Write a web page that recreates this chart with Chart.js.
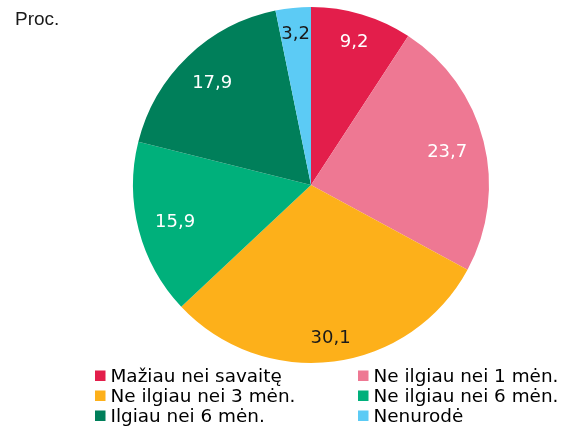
<!DOCTYPE html>
<html lang="lt">
  <head>
    <meta charset="utf-8">
    <title>Proc.</title>
    <script src="https://cdn.jsdelivr.net/npm/chart.js@4/dist/chart.umd.min.js"></script>
    <style>
      html, body { margin: 0; padding: 0; background: #fff; }
      #wrap { width: 568px; height: 432px; position: relative; }
    </style>
  </head>
  <body>
    <div id="wrap"><canvas id="chartCanvas" width="568" height="432"></canvas></div>
    <script>
      // data
      var categories = ['Mažiau nei savaitę', 'Ne ilgiau nei 1 mėn.', 'Ne ilgiau nei 3 mėn.',
                        'Ne ilgiau nei 6 mėn.', 'Ilgiau nei 6 mėn.', 'Nenurodė'];
      var shares = [9.2, 23.7, 30.1, 15.9, 17.9, 3.2];
      var unitLabel = 'Proc.';

      var colors = ['#e31e4b', '#ee7893', '#fdb01a', '#00b07b', '#007f5a', '#5ccbf5'];
      var labelColors = ['#fff', '#fff', '#1a1a1a', '#fff', '#fff', '#1a1a1a'];

      // value labels inside the slices, box kept a fixed distance from the rim
      var sliceLabels = {
        id: 'sliceLabels',
        afterDatasetsDraw: function (chart) {
          var c = chart.ctx;
          var meta = chart.getDatasetMeta(0);
          var capH = 13;
          c.save();
          c.font = '18px "DejaVu Sans"';
          c.textAlign = 'center';
          c.textBaseline = 'alphabetic';
          meta.data.forEach(function (arc, i) {
            var txt = String(shares[i]).replace('.', ',');
            var w = c.measureText(txt).width;
            var mid = (arc.startAngle + arc.endAngle) / 2;
            var cx = Math.cos(mid), cy = Math.sin(mid);
            var ext = Math.abs(cx) * w / 2 + Math.abs(cy) * capH / 2;
            var r = arc.outerRadius - 16.5 - ext;
            c.fillStyle = labelColors[i];
            c.fillText(txt, arc.x + cx * r, arc.y + cy * r + capH / 2);
          });
          c.restore();
        }
      };

      // two column legend and unit text
      var gridLegend = {
        id: 'gridLegend',
        afterDraw: function (chart) {
          var c = chart.ctx;
          c.save();
          c.textBaseline = 'alphabetic';
          c.font = '19px "Liberation Sans"';
          c.fillStyle = '#1a1a1a';
          c.fillText(unitLabel, 15, 25);

          c.font = '18.4px "DejaVu Sans"';
          var colX = [95, 358];
          chart.data.labels.forEach(function (lab, i) {
            var x = colX[i % 2];
            var base = 382 + Math.floor(i / 2) * 20;
            c.fillStyle = colors[i];
            c.fillRect(x, base - 11.5, 10.5, 10.5);
            c.fillStyle = '#000';
            c.fillText(lab, x + 15.5, base);
          });
          c.restore();
        }
      };

      const ctx = document.getElementById('chartCanvas');

      var chart = new Chart(ctx, {
        type: 'pie',
        data: {
          labels: categories,
          datasets: [{
            data: shares,
            backgroundColor: colors,
            borderWidth: 0
          }]
        },
        options: {
          responsive: false,
          animation: false,
          layout: {
            padding: { top: 7, bottom: 69, left: 133, right: 79 }
          },
          plugins: {
            legend: { display: false },
            tooltip: { enabled: false }
          }
        },
        plugins: [sliceLabels, gridLegend]
      });
    </script>
  </body>
</html>
